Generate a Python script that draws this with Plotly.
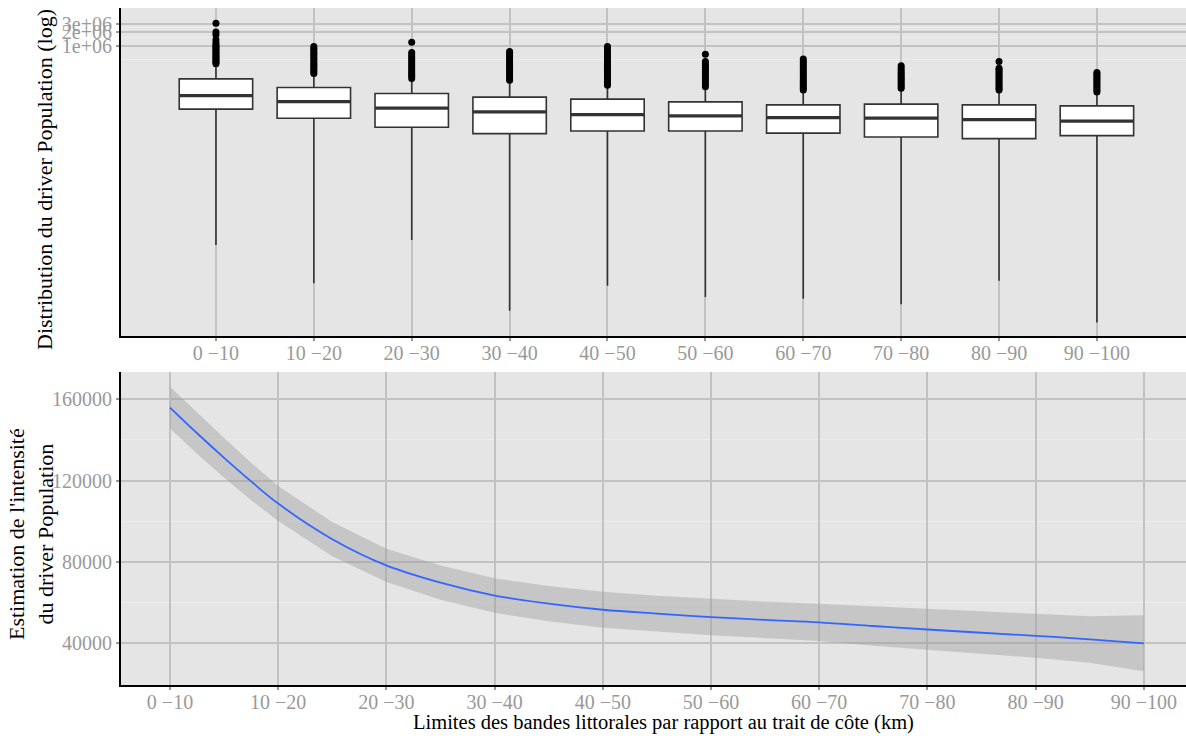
import plotly.graph_objects as go

FONT = "Liberation Serif"

# ---------------- data ----------------
bands = ["0 −10", "10 −20", "20 −30", "30 −40", "40 −50",
         "50 −60", "60 −70", "70 −80", "80 −90", "90 −100"]
band_pos = [0, 1, 2, 3, 4, 5, 6, 7, 8, 9]

# boxplot statistics (population, log scale display)
box_lower = [48, 7.1, 62, 1.8, 6.3, 3.6, 3.3, 2.5, 8.1, 1.0]
box_q1 = [42400, 27000, 17200, 12500, 14300, 14300, 12800, 10600, 9750, 11300]
box_median = [83600, 61900, 44500, 37000, 32400, 30300, 27900, 27000, 25200, 23300]
box_q3 = [192000, 124500, 92300, 77100, 69800, 61000, 52500, 54400, 52500, 49900]
box_upper = [387000, 235000, 183000, 168000, 131000, 121000, 102000, 111000, 102000, 94200]

out_0_10 = [410000, 440000, 470000, 500000, 540000, 580000, 620000, 670000, 720000, 780000,
            840000, 910000, 980000, 1060000, 1160000, 1350000, 1730000, 2000000, 3100000]
out_10_20 = [250000, 275000, 300000, 330000, 360000, 400000, 440000, 490000, 540000, 600000,
             660000, 730000, 810000, 890000, 970000]
out_20_30 = [195000, 215000, 235000, 260000, 285000, 315000, 350000, 385000, 425000, 470000,
             520000, 575000, 640000, 716000, 1200000]
out_30_40 = [180000, 200000, 220000, 245000, 270000, 300000, 330000, 365000, 405000, 450000,
             500000, 550000, 610000, 680000, 750000]
out_40_50 = [140000, 155000, 170000, 190000, 210000, 230000, 255000, 280000, 310000, 345000,
             380000, 420000, 470000, 520000, 580000, 650000, 740000, 850000, 970000]
out_50_60 = [130000, 142000, 156000, 172000, 190000, 210000, 230000, 255000, 280000, 310000,
             340000, 375000, 415000, 456000, 660000]
out_60_70 = [110000, 120000, 132000, 145000, 160000, 176000, 194000, 213000, 235000, 260000,
             285000, 315000, 350000, 385000, 425000, 470000, 515000]
out_70_80 = [120000, 131000, 143000, 157000, 172000, 188000, 206000, 226000, 248000, 272000,
             298000, 330000, 368000]
out_80_90 = [110000, 120000, 131000, 144000, 158000, 174000, 190000, 210000, 230000, 252000,
             278000, 303000, 328000, 456000]
out_90_100 = [100000, 109000, 119000, 130000, 142000, 155000, 170000, 186000, 203000, 222000,
              242000, 264000]
outliers = [out_0_10, out_10_20, out_20_30, out_30_40, out_40_50,
            out_50_60, out_60_70, out_70_80, out_80_90, out_90_100]

# smoothed intensity estimate (loess) with confidence band
fit_x = [0, 0.25, 0.5, 0.75, 1, 1.5, 2, 2.5, 3, 3.5, 4, 4.5, 5, 5.5, 6, 6.5, 7, 7.5, 8, 8.5, 9]
fit_y = [155900, 143300, 131200, 119600, 108700, 91200, 78300, 69800, 63500, 59500, 56500,
         54600, 52900, 51500, 50300, 48500, 46800, 45200, 43700, 41900, 40000]
fit_hi = [166200, 153400, 141000, 128800, 117300, 99600, 86500, 78200, 72000, 68200, 65300,
          63400, 61800, 60500, 59500, 58200, 56800, 55600, 54500, 53300, 53800]
fit_lo = [145600, 133200, 121400, 110400, 100100, 82800, 70100, 61400, 55000, 50800, 47700,
          45800, 44000, 42500, 41100, 38800, 36800, 34800, 32900, 30500, 26200]

top_ticks = [1e6, 2e6, 3e6]
top_ticktext = ["1e+06", "2e+06", "3e+06"]
top_minor = [5e5, 1.5e6, 2.5e6]
bot_ticks = [40000, 80000, 120000, 160000]
bot_ticktext = ["40000", "80000", "120000", "160000"]
bot_minor = [60000, 100000, 140000]

# ---------------- figure ----------------
BOX_W = 0.75
fig = go.Figure()

fig.add_trace(go.Box(
    x=band_pos, q1=box_q1, median=box_median, q3=box_q3,
    lowerfence=box_lower, upperfence=box_upper,
    width=BOX_W, whiskerwidth=0, boxpoints=False,
    fillcolor="white", line=dict(color="#333333", width=1.6),
    xaxis="x", yaxis="y", showlegend=False, hoverinfo="skip"))

# thicker median lines
mx, my = [], []
for p, m in zip(band_pos, box_median):
    mx += [p - BOX_W / 2, p + BOX_W / 2, None]
    my += [m, m, None]
fig.add_trace(go.Scatter(x=mx, y=my, mode="lines", line=dict(color="#333333", width=3.2),
                         xaxis="x", yaxis="y", showlegend=False, hoverinfo="skip"))

ox, oy = [], []
for p, vals in zip(band_pos, outliers):
    ox += [p] * len(vals)
    oy += vals
fig.add_trace(go.Scatter(x=ox, y=oy, mode="markers",
                         marker=dict(color="black", size=7),
                         xaxis="x", yaxis="y", showlegend=False, hoverinfo="skip"))

# confidence band + fit
fig.add_trace(go.Scatter(x=fit_x + fit_x[::-1], y=fit_hi + fit_lo[::-1], fill="toself",
                         fillcolor="rgba(153,153,153,0.4)", line=dict(width=0),
                         mode="lines", xaxis="x2", yaxis="y2", showlegend=False,
                         hoverinfo="skip"))
fig.add_trace(go.Scatter(x=fit_x, y=fit_y, mode="lines",
                         line=dict(color="#3366FF", width=1.8, shape="spline"),
                         xaxis="x2", yaxis="y2", showlegend=False))

tickfont = dict(family=FONT, size=20, color="#999999")
common = dict(showline=True, linecolor="black", linewidth=2, ticks="outside", ticklen=3,
              tickcolor="#9a9a9a", tickwidth=1.5, tickfont=tickfont, showgrid=True,
              gridcolor="#c2c2c2", gridwidth=1.6, zeroline=False, automargin=False)

W, H = 1186, 736
L, R, T, B = 121, 0, 8, 51
plot_h = H - T - B
top_dom = [(H - B - 336) / plot_h, 1]
bot_dom = [0, (H - B - 372) / plot_h]

fig.update_layout(
    width=W, height=H,
    margin=dict(l=L, r=R, t=T, b=B),
    paper_bgcolor="white", plot_bgcolor="#e5e5e5",
    font=dict(family=FONT, size=20, color="black"),
    xaxis=dict(common, domain=[0, 1], anchor="y", range=[-0.97, 9.91],
               tickvals=band_pos, ticktext=bands, ticklabelstandoff=-5),
    yaxis=dict(common, domain=top_dom, anchor="x", type="log", range=[-0.29, 6.82],
               tickvals=top_ticks, ticktext=top_ticktext,
               minor=dict(tickvals=top_minor, showgrid=True, gridcolor="#ececec",
                          gridwidth=1, ticklen=0)),
    xaxis2=dict(common, domain=[0, 1], anchor="y2", range=[-0.453, 9.39],
                tickvals=band_pos, ticktext=bands, ticklabelstandoff=-5),
    yaxis2=dict(common, domain=bot_dom, anchor="x2", range=[19500, 173400],
                tickvals=bot_ticks, ticktext=bot_ticktext,
                minor=dict(tickvals=bot_minor, showgrid=True, gridcolor="#ececec",
                           gridwidth=1, ticklen=0)),
)

def px_x(px):
    return (px - L) / (W - L - R)

def px_y(py):
    return (H - B - py) / plot_h

fig.add_annotation(text="Limites des bandes littorales par rapport au trait de côte (km)",
                   x=px_x(663), y=px_y(722), xref="paper", yref="paper",
                   showarrow=False, font=dict(family=FONT, size=20.5, color="black"),
                   xanchor="center", yanchor="middle")
fig.add_annotation(text="Distribution du driver Population (log)",
                   x=px_x(44), y=px_y(180), xref="paper", yref="paper", textangle=-90,
                   showarrow=False, font=dict(family=FONT, size=22, color="black"),
                   xanchor="center", yanchor="middle")
fig.add_annotation(text="Estimation de l'intensité<br>du driver Population",
                   x=px_x(31), y=px_y(534), xref="paper", yref="paper", textangle=-90,
                   showarrow=False, font=dict(family=FONT, size=22, color="black"),
                   xanchor="center", yanchor="middle")

fig.write_html("out.html", config={"displayModeBar": False},
               post_script="document.body.style.margin='0';")
